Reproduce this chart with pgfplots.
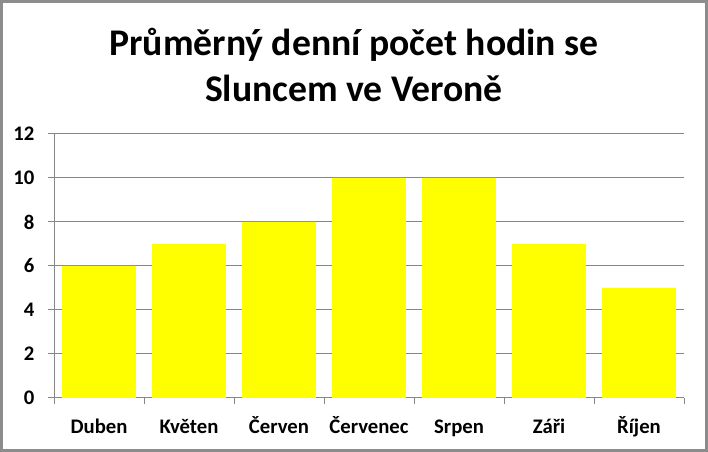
\documentclass[border=0pt]{standalone}
\usepackage{fontspec}
\setmainfont{Carlito}
\usepackage{pgfplots}
\pgfplotsset{compat=1.18}
\definecolor{axisgray}{HTML}{868686}
\definecolor{framegray}{HTML}{8C8C8C}
\definecolor{baryellow}{HTML}{FFFF00}
\begin{document}
\begin{tikzpicture}[x=1bp,y=1bp]
\useasboundingbox (0,0) rectangle (708,452);
\draw[line width=2.6bp, color=framegray] (1.3,1.3) rectangle (706.7,450.7);
\node[font=\fontsize{37.8}{45.5}\selectfont\bfseries, align=center] at (354,387) {Průměrný denní počet hodin se\\Sluncem ve Veroně};
\begin{axis}[
  at={(54bp,54bp)}, anchor=south west,
  scale only axis, width=630bp, height=264bp,
  xmin=-0.5, xmax=6.5, ymin=0, ymax=12,
  ytick={0,2,...,12},
  xtick={0,...,6},
  xticklabels={Duben,Květen,Červen,Červenec,Srpen,Záři,Říjen},
  minor xtick={-0.5,0.5,...,6.5},
  major x tick style={draw=none},
  minor x tick style={draw=axisgray, line width=1bp},
  tick align=outside,
  major tick length=6bp, minor tick length=6bp,
  ymajorgrids,
  grid style={axisgray, line width=1bp},
  axis x line*=bottom, axis y line*=left,
  axis line style={axisgray, line width=1bp},
  y tick style={axisgray, line width=1bp},
  /pgf/number format/assume math mode=true,
  ticklabel style={font=\fontsize{20.8}{24}\selectfont\bfseries},
  xticklabel style={anchor=base, yshift=-30bp},
  yticklabel style={anchor=east, xshift=-10bp},
  ybar, bar width=0.82,
]
\addplot[fill=baryellow, draw=none, bar shift=0pt] coordinates {(0,6) (1,7) (2,8) (3,10) (4,10) (5,7) (6,5)};
\end{axis}
\end{tikzpicture}
\end{document}
